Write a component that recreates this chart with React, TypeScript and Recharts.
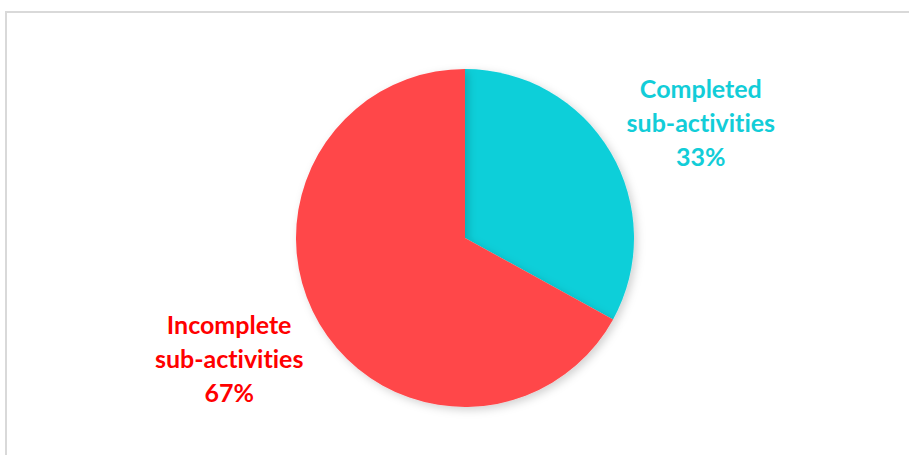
import { PieChart, Pie, Cell } from 'recharts';

const categories = ['Completed', 'Incomplete'];
const shares = [33, 67];
const labelLines = [
  ['Completed', 'sub-activities', '33%'],
  ['Incomplete', 'sub-activities', '67%'],
];
const sliceColors = ['#10CFD9', '#FF474A'];
const textColors = ['#12CDD8', '#FF0000'];

const data = categories.map((name, i) => ({ name, value: shares[i] }));

const RAD = Math.PI / 180;

function renderLabel(props: any) {
  const { cx, cy, midAngle, index } = props;
  const x = cx + Math.cos(-midAngle * RAD) * 274;
  const y = cy + Math.sin(-midAngle * RAD) * 226 + (index === 1 ? 6 : 0);
  const lines = labelLines[index];
  return (
    <text
      x={x}
      y={y}
      textAnchor="middle"
      fill={textColors[index]}
      fontFamily="Lato, 'Open Sans', sans-serif"
      fontWeight={700}
      fontSize={25}
      style={{ fontVariantLigatures: 'none' }}
    >
      {lines.map((line, i) => (
        <tspan key={i} x={x} y={y + (i - 1) * 34 + 9}>
          {line}
        </tspan>
      ))}
    </text>
  );
}

export default function App() {
  return (
    <div style={{ position: 'fixed', left: 0, top: 0, width: 909, height: 455, background: '#fff', overflow: 'hidden' }}>
      <div
        style={{
          position: 'absolute',
          left: 5,
          top: 11,
          width: 910,
          height: 460,
          border: '2px solid #d9d9d9',
          boxSizing: 'border-box',
        }}
      />
      <div style={{ position: 'absolute', left: 0, top: 0 }}>
        <PieChart width={909} height={455} margin={{ top: 0, right: 0, bottom: 0, left: 0 }}>
          <defs>
            <filter id="pieShadow" x="-20%" y="-20%" width="140%" height="140%">
              <feDropShadow dx="3" dy="3" stdDeviation="4" floodColor="#000" floodOpacity="0.18" />
            </filter>
          </defs>
          <Pie
            data={data}
            dataKey="value"
            nameKey="name"
            cx={465}
            cy={238}
            outerRadius={169}
            startAngle={90}
            endAngle={-270}
            stroke="none"
            label={renderLabel}
            labelLine={false}
            isAnimationActive={false}
            style={{ filter: 'url(#pieShadow)' }}
          >
            {data.map((d, i) => (
              <Cell key={d.name} fill={sliceColors[i]} />
            ))}
          </Pie>
        </PieChart>
      </div>
    </div>
  );
}
